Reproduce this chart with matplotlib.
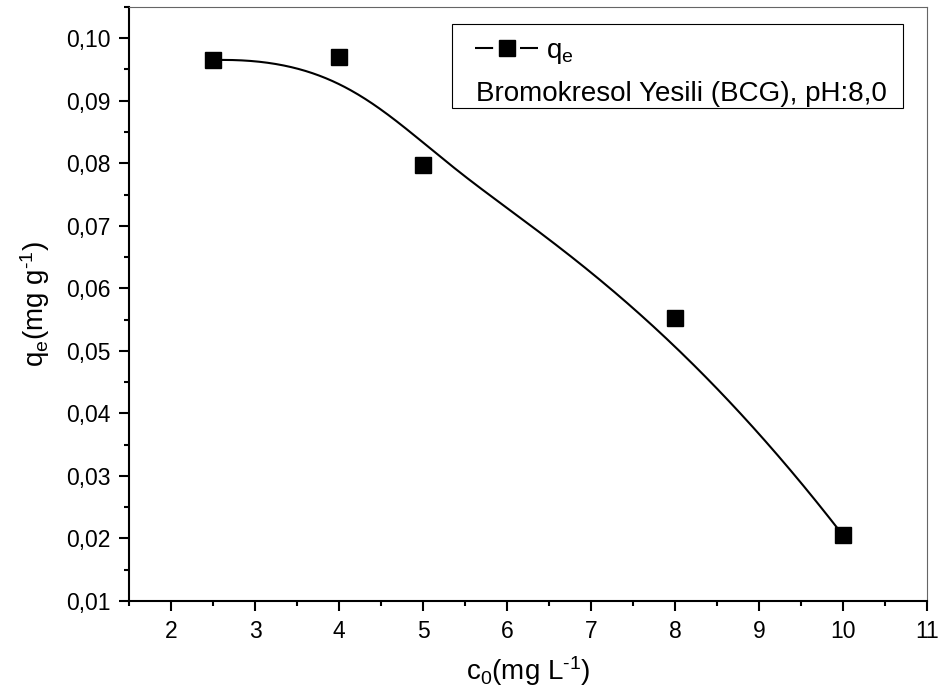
import matplotlib
matplotlib.use("Agg")
import matplotlib.pyplot as plt
from matplotlib.lines import Line2D
from matplotlib.patches import Rectangle
from matplotlib.ticker import MultipleLocator, FuncFormatter
import numpy as np

plt.rcParams['font.family'] = ['Liberation Sans', 'DejaVu Sans']
plt.rcParams['mathtext.fontset'] = 'custom'
plt.rcParams['mathtext.rm'] = 'Liberation Sans'
plt.rcParams['mathtext.it'] = 'Liberation Sans'

# data
c0 = [2.5, 4, 5, 8, 10]
qe = [0.0965, 0.0970, 0.0797, 0.0552, 0.0205]
legend_text = "Bromokresol Yesili (BCG), pH:8,0"


def bspline(px, py, n=300):
    # clamped cubic B-spline using the points as control points (Origin style)
    P = np.column_stack([px, py])
    k = 3
    m = len(P)
    inner = np.linspace(0, 1, m - k + 1)[1:-1]
    t = np.concatenate([[0] * (k + 1), inner, [1] * (k + 1)])
    us = np.linspace(0, 1, n)
    out = []
    for u in us:
        if u >= 1:
            out.append(P[-1])
            continue
        j = np.searchsorted(t, u, side='right') - 1
        d = [P[j - k + i].copy() for i in range(k + 1)]
        for r in range(1, k + 1):
            for i in range(k, r - 1, -1):
                a = (u - t[j - k + i]) / (t[j + 1 + i - r] - t[j - k + i])
                d[i] = (1 - a) * d[i - 1] + a * d[i]
        out.append(d[k])
    out = np.array(out)
    return out[:, 0], out[:, 1]


fig = plt.figure(figsize=(9.4, 6.9), dpi=100)
ax = fig.add_axes([0.1372, 0.129, 0.849, 0.861])

sx, sy = bspline(c0, qe)
ax.plot(sx, sy, color='black', lw=1.5, zorder=2)
ax.plot(c0, qe, 's', color='black', ms=12, zorder=3)

ax.set_xlim(1.5, 11)
ax.set_ylim(0.01, 0.105)
ax.xaxis.set_major_locator(MultipleLocator(1))
ax.xaxis.set_minor_locator(MultipleLocator(0.5))
ax.yaxis.set_major_locator(MultipleLocator(0.01))
ax.yaxis.set_minor_locator(MultipleLocator(0.005))
ax.yaxis.set_major_formatter(FuncFormatter(lambda v, p: ("%.2f" % v).replace('.', ',')))

ax.tick_params(which='both', direction='out', width=1.5, labelsize=16.5)
ax.tick_params(axis='y', pad=6.5)
ax.tick_params(axis='x', pad=7)
ax.tick_params(which='major', length=7)
ax.tick_params(which='minor', length=3.6)
ax.tick_params(top=False, right=False)
for s in ['left', 'bottom']:
    ax.spines[s].set_linewidth(1.5)
for s in ['top', 'right']:
    ax.spines[s].set_linewidth(0.8)
    ax.spines[s].set_color('#666666')

ax.set_xlabel("c$_0$(mg L$^{\u2010 1}$)", fontsize=20, labelpad=8)
ax.set_ylabel("q$_e$(mg g$^{\u2010 1}$)", fontsize=20, labelpad=10)

# legend box
ax.add_patch(Rectangle((0.4048, 0.830), 0.5652, 0.1414, transform=ax.transAxes,
                       fill=False, edgecolor='black', lw=0.8, zorder=5))
h = Line2D([], [], color='black', lw=1.5, marker='s', ms=11,
           dashes=(8.7, 12.9))
leg = ax.legend([h], ["q$_e$"], loc='center left', bbox_to_anchor=(0.4336, 0.924),
                frameon=False, fontsize=20, handlelength=2.27, handletextpad=0.3,
                borderaxespad=0, borderpad=0)
ax.text(0.4354, 0.842, legend_text, transform=ax.transAxes, fontsize=20,
        ha='left', va='baseline')

fig.savefig("out.png", dpi=100)
